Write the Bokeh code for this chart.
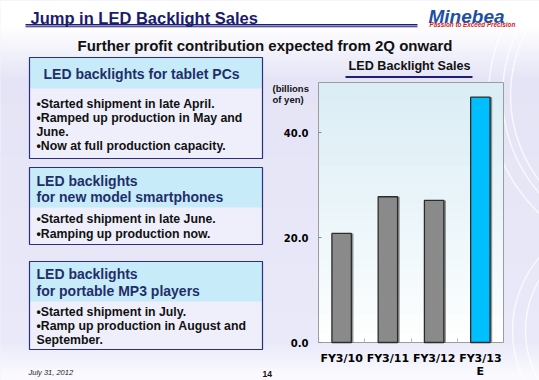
from bokeh.plotting import figure
from bokeh.models import (Range1d, Label, LinearAxis, FixedTicker,
                          PrintfTickFormatter, ColumnDataSource)
from bokeh.embed import file_html
from bokeh.resources import INLINE

# ---------------- data ----------------
categories = ["FY3/10", "FY3/11", "FY3/12", "FY3/13\nE"]
sales = [20.8, 27.8, 27.1, 46.8]          # billions of yen
y_ticks = [0, 20, 40]
y_max = 49.6

# ---------------- layout constants (slide pixels) ----------------
W, H = 539, 380
FL, FR, FT, FB = 318, 503, 82, 342   # chart plot area

ncat = len(categories)
xpos = [i + 0.5 for i in range(ncat)]       # category slot centres
bounds = [float(i) for i in range(1, ncat)]  # category boundaries
bar_colors = ["#8A8A8A", "#8A8A8A", "#8A8A8A", "#00BFFF"]

src = ColumnDataSource(dict(x=xpos, xs=[v + 0.045 for v in xpos], val=sales,
                            color=bar_colors))

p = figure(width=W, height=H, x_range=Range1d(0, W), y_range=Range1d(H, 0),
           x_axis_type=None, y_axis_type=None, output_backend="svg",
           toolbar_location=None, title=None, min_border=0)
# chart ranges mapped so that the plot area lands at FL..FR / FB..FT
kx = (FR - FL) / ncat
ky = (FB - FT) / y_max
p.extra_x_ranges = {"cx": Range1d((0 - FL) / kx, (W - FL) / kx)}
p.extra_y_ranges = {"cy": Range1d((FB - H) / ky, (FB - 0) / ky)}
p.border_fill_color = "#E5E5F6"
p.background_fill_color = "#E5E5F6"
p.outline_line_color = None
p.grid.visible = False


def hexc(c):
    return "#%02X%02X%02X" % tuple(int(round(v)) for v in c)


def lerp(a, b, t):
    t = max(0.0, min(1.0, t))
    return tuple(a[i] + (b[i] - a[i]) * t for i in range(3))


def stext(x, y, text, size, color="#111111", style="bold", align="left",
          baseline="middle", font="Liberation Sans"):
    p.add_layout(Label(x=x, y=y, text=text, text_font=font, text_font_size=size,
                       text_font_style=style, text_color=color, text_align=align,
                       text_baseline=baseline))


# ---------------- slide background ----------------
WHITE = (255, 255, 255)
LAV = (228, 228, 246)
LAV2 = (233, 233, 249)
BOT = (250, 250, 254)


def bg(y):
    if y < 26:
        return WHITE
    if y < 78:
        return lerp(WHITE, LAV, (y - 26) / 52)
    if y < 340:
        return lerp(LAV, LAV2, (y - 78) / 262)
    return lerp(LAV2, BOT, (y - 340) / 36)


step = 2
b_top = list(range(0, H, step))
p.quad(left=-5, right=W + 5, top=b_top, bottom=[t + step + 0.6 for t in b_top],
       fill_color=[hexc(bg(t + step / 2)) for t in b_top], line_color=None)

# faint decorative swirls on the right edge
p.circle(x=[650, 650, 650, 625, 625], y=[95, 95, 95, 330, 330],
         radius=[140, 148, 162, 100, 113], fill_color=None,
         line_color="#FFFFFF", line_alpha=0.75, line_width=1.4)

# ---------------- left panels ----------------
HDR = "#1F2F6B"
BORDER = "#2E2E7E"
BAND = "#C8EBF9"
BODY = "#EFEFFB"
panels = [
    (57, 88, 158, ["LED backlights for tablet PCs"], [73],
     ["\u2022Started shipment in late April.", "\u2022Ramped up production in May and",
      "June.", "\u2022Now at full production capacity."], [103, 117, 131, 145], 43),
    (167, 207, 244, ["LED backlights", "for new model smartphones"], [180, 196],
     ["\u2022Started shipment in late June.", "\u2022Ramping up production now."], [218, 233], 36),
    (261, 301, 349, ["LED backlights", "for portable MP3 players"], [273, 290],
     ["\u2022Started shipment in July.", "\u2022Ramp up production in August  and",
      "September."], [311, 325, 339], 36),
]
for top, band_b, bot, heads, hys, body, bys, hx in panels:
    p.quad(left=29, right=262, top=top, bottom=bot, fill_color=BODY, line_color=None)
    p.quad(left=29, right=262, top=top, bottom=band_b, fill_color=BAND, line_color=None)
    p.quad(left=29, right=262, top=top, bottom=bot, fill_color=None,
           line_color=BORDER, line_width=1.2)
    for t, yy in zip(heads, hys):
        stext(hx, yy, t, "14px", color=HDR)
    for t, yy in zip(body, bys):
        stext(36, yy, t, "12.3px", color="#111111")

# ---------------- chart plot area ----------------
n = 28
p.quad(left=0, right=ncat, bottom=[y_max * i / n for i in range(n)],
       top=[y_max * (i + 1) / n + 0.15 for i in range(n)],
       fill_color=[hexc(lerp(WHITE, (218, 237, 245), ((i + 0.5) / n) ** 0.9)) for i in range(n)],
       line_color=None, x_range_name="cx", y_range_name="cy")
p.quad(left=0, right=ncat, bottom=0, top=y_max, fill_color=None, line_color="#9C9C9C",
       line_width=1, x_range_name="cx", y_range_name="cy")

# bars (shadow + bar)
p.vbar(x="xs", top="val", width=0.42, source=src, fill_color="#3A3A3A",
       fill_alpha=0.55, line_alpha=0.0, x_range_name="cx", y_range_name="cy")
p.vbar(x="x", top="val", width=0.42, source=src, fill_color="color",
       line_color="#2C2C2C", line_width=1.3, x_range_name="cx", y_range_name="cy")

# ---------------- axes ----------------
ya = LinearAxis(x_range_name="cx", y_range_name="cy", fixed_location=0,
                ticker=FixedTicker(ticks=y_ticks),
                formatter=PrintfTickFormatter(format="%.1f"))
ya.major_label_text_font = "DejaVu Sans"
ya.major_label_text_font_style = "bold"
ya.major_label_text_font_size = "10px"
ya.major_label_text_color = "#000000"
ya.axis_line_color = None
ya.major_tick_in = 3
ya.major_tick_out = 0
ya.major_tick_line_color = "#8A8A8A"
ya.minor_tick_line_color = None
ya.major_label_standoff = 10
p.add_layout(ya, "left")

xa = LinearAxis(x_range_name="cx", y_range_name="cy", fixed_location=0,
                ticker=FixedTicker(ticks=xpos, minor_ticks=bounds))
xa.major_label_overrides = {x: c for x, c in zip(xpos, categories)}
xa.major_label_text_font = "DejaVu Sans"
xa.major_label_text_font_style = "bold"
xa.major_label_text_font_size = "11px"
xa.major_label_text_color = "#000000"
xa.major_label_text_line_height = 1.05
xa.axis_line_color = None
xa.major_tick_line_color = None
xa.minor_tick_in = 4
xa.minor_tick_out = 0
xa.minor_tick_line_color = "#B8B8B8"
xa.major_label_standoff = 3
p.add_layout(xa, "below")

# ---------------- header ----------------
NAVY = "#1C1C6E"
p.quad(left=25, right=417, top=23.6, bottom=24.9, fill_color="#1E1E78", line_color=None)
p.quad(left=25, right=417, top=25.8, bottom=26.7, fill_color="#1E1E78", line_color=None)
stext(30, 17.6, "Jump in LED Backlight Sales", "16.5px", color=NAVY, baseline="alphabetic")
stext(428, 15.6, "Minebea", "19px", color="#1E4FA6", style="bold italic", baseline="alphabetic")
stext(429, 24.2, "Passion to Exceed Precision", "6.3px", color="#CC2027",
      style="bold italic", baseline="alphabetic")
stext(264.5, 44.6, "Further profit contribution expected from 2Q onward", "15px",
      color="#111111", align="center", baseline="alphabetic")

# ---------------- chart labels ----------------
p.quad(left=345, right=472, top=75.6, bottom=77.6, fill_color="#1E1E78", line_color=None)
stext(409, 65.6, "LED Backlight Sales", "12.6px", color="#111111", align="center",
      baseline="alphabetic")
stext(272, 88, "(billions", "9.5px", color="#111111")
stext(272, 98.5, "of yen)", "9.5px", color="#111111")

# ---------------- footer ----------------
stext(28, 372, "July 31, 2012", "7.5px", color="#222222", style="italic")
stext(262, 373, "14", "8.5px", color="#111111")

open("out.html", "w").write(file_html(p, INLINE))
